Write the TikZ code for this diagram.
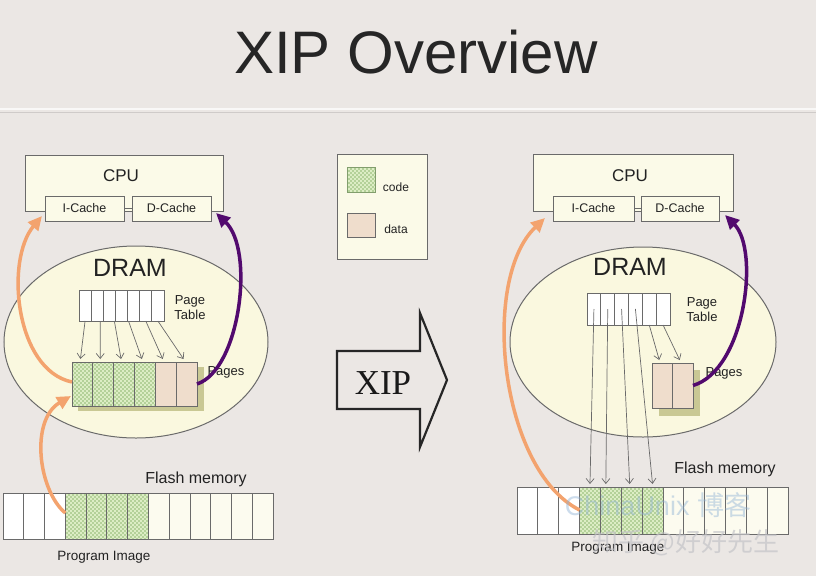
\documentclass[tikz,border=0pt]{standalone}
\usepackage{fontspec}
\setmainfont{Liberation Sans}
\newfontfamily\serifxip{Liberation Serif}
\newfontfamily\cjk{Noto Sans CJK SC}
\usetikzlibrary{arrows.meta,patterns,calc,shapes.geometric}
\pgfdeclarepatternformonly{codedots}{\pgfqpoint{-1pt}{-1pt}}{\pgfqpoint{5pt}{5pt}}{\pgfqpoint{4pt}{4pt}}{%
  \pgfpathcircle{\pgfqpoint{1pt}{1pt}}{0.9pt}%
  \pgfpathcircle{\pgfqpoint{3pt}{3pt}}{0.9pt}%
  \pgfusepath{fill}}
\definecolor{bgc}{HTML}{EBE7E4}
\definecolor{creamc}{HTML}{FBFAE8}
\definecolor{ellc}{HTML}{FAF8DF}
\definecolor{cellc}{HTML}{FCFBEF}
\definecolor{codebg}{HTML}{DCEDC4}
\definecolor{codedot}{HTML}{8DB56E}
\definecolor{datac}{HTML}{EFDDCC}
\definecolor{lineg}{HTML}{6A6A6A}
\definecolor{orangec}{HTML}{F3A36E}
\definecolor{purplec}{HTML}{520A6E}
\definecolor{shadowc}{HTML}{C9C894}
\definecolor{txtc}{HTML}{222222}
\definecolor{wmblue}{HTML}{8FB2D6}
\definecolor{wmgray}{HTML}{C4C4C8}
\begin{document}
\begin{tikzpicture}[x=1pt,y=-1pt,
  every node/.style={inner sep=0pt,outer sep=0pt,text=txtc},
  boxc/.style={draw=lineg,line width=1pt,fill=creamc,anchor=north west},
  cachebox/.style={draw=lineg,line width=1pt,fill=creamc,minimum height=25pt,font=\fontsize{12.5}{12.5}\selectfont},
  dramell/.style={ellipse,draw=lineg,line width=1pt,fill=ellc,minimum width=264pt,minimum height=192pt},
  ptcellL/.style={draw=lineg,line width=0.8pt,fill=white,anchor=north west,minimum width=12.14pt,minimum height=31pt},
  ptcellR/.style={draw=lineg,line width=0.8pt,fill=white,anchor=north west,minimum width=13.83pt,minimum height=32pt},
  codecell/.style={draw=lineg,line width=0.8pt,preaction={fill=codebg},pattern=codedots,pattern color=codedot,anchor=north west},
  datacell/.style={draw=lineg,line width=0.8pt,fill=datac,anchor=north west},
  flcell/.style={draw=lineg,line width=0.8pt,fill=cellc,anchor=north west},
  lbl/.style={font=\fontsize{13}{15}\selectfont,align=center},
  ptarrow/.style={draw=lineg,line width=0.7pt,-{Straight Barb[length=5pt,width=8pt]}},
  orangearr/.style={draw=orangec,line width=3.5pt,-{Triangle[length=14pt,width=13pt]}},
  purplearr/.style={draw=purplec,line width=3.5pt,-{Triangle[length=14pt,width=13pt]}}
]
\useasboundingbox (0,0) rectangle (816,576);
\fill[bgc] (0,0) rectangle (816,576);
% title
\node[font=\fontsize{60}{60}\selectfont,text=black!85] (title) at (416,52) {XIP Overview};
\draw[line width=2pt,color=white!70!bgc] (0,109) -- (816,109);
\draw[line width=1pt,color=black!12!bgc] (0,112) -- (816,112);

% ===== LEFT =====
\node[boxc,minimum width=198pt,minimum height=56pt] (lcpu) at (25,155) {};
\node[font=\fontsize{17}{17}\selectfont] (lcputxt) at (121,176) {CPU};
\node[cachebox,minimum width=79pt] (lic) at (84.5,208.5) {I-Cache};
\node[cachebox,minimum width=79pt] (ldc) at (171.5,208.5) {D-Cache};
\draw[lineg,line width=1pt] (lic) -- (ldc);

\node[dramell] (ldram) at (136,342) {};
\node[font=\fontsize{25}{25}\selectfont] (ldramtxt) at (130,268) {DRAM};

\foreach \i in {1,...,7} {\node[ptcellL] (lpt\i) at ({79+(\i-1)*12.14},290) {};}
\node[lbl] (lptlbl) at (190,308) {Page\\Table};

\fill[shadowc] (78,367) rectangle (204,411);
\foreach \i in {1,...,4} {\node[codecell,minimum width=20.83pt,minimum height=44pt] (lpg\i) at ({72+(\i-1)*20.83},362) {};}
\foreach \i in {5,6} {\node[datacell,minimum width=20.83pt,minimum height=44pt] (lpg\i) at ({72+(\i-1)*20.83},362) {};}
\node[lbl] (lpglbl) at (226,372) {Pages};

\draw[ptarrow] (lpt1.south) -- ($(lpg1.north)+(-2,-3)$);
\draw[ptarrow] ($(lpt2.south)+(3,0)$) -- ($(lpg2.north)+(-3,-3)$);
\draw[ptarrow] ($(lpt3.south)+(5,0)$) -- ($(lpg3.north)+(-3,-3)$);
\draw[ptarrow] ($(lpt4.south)+(7,0)$) -- ($(lpg4.north)+(-3,-3)$);
\draw[ptarrow] (lpt6.south) -- ($(lpg5.north)+(-3,-3)$);
\draw[ptarrow] (lpt7.south) -- ($(lpg6.north)+(-3,-3)$);

\foreach \i in {1,2,3} {\node[flcell,fill=white,minimum width=20.77pt,minimum height=46pt] (lfl\i) at ({3+(\i-1)*20.77},493) {};}
\foreach \i in {4,...,7} {\node[codecell,minimum width=20.77pt,minimum height=46pt] (lfl\i) at ({3+(\i-1)*20.77},493) {};}
\foreach \i in {8,...,13} {\node[flcell,minimum width=20.77pt,minimum height=46pt] (lfl\i) at ({3+(\i-1)*20.77},493) {};}
\node[font=\fontsize{16}{16}\selectfont] (lfltxt) at (196,479) {Flash memory};
\node[font=\fontsize{13.5}{13.5}\selectfont] (lpitxt) at (104,557) {Program Image};

\draw[orangearr] ($(lfl4.west)+(0,-3)$) .. controls (38,490) and (30,420) .. ($(lpg1.south west)+(-1,-10)$);
\draw[orangearr] ($(lpg1.west)+(0,-2)$) .. controls (15,370) and (5,260) .. ($(lic.south west)+(-3,-5)$);
\draw[purplearr] (lpg6.east) .. controls (240,370) and (255,250) .. ($(ldc.south east)+(5,-8)$);

% ===== LEGEND =====
\node[boxc,minimum width=90pt,minimum height=105pt] (leg) at (337,154) {};
\node[codecell,draw=codedot!70!lineg,minimum width=28pt,minimum height=25pt] (legcode) at (347,167) {};
\node[datacell,minimum width=28pt,minimum height=24pt] (legdata) at (347,213) {};
\node[font=\fontsize{12}{12}\selectfont] (legcodetxt) at (396,187) {code};
\node[font=\fontsize{12}{12}\selectfont] (legdatatxt) at (396,229) {data};

% ===== XIP arrow =====
\draw[line width=2.2pt,black!85,fill=bgc,line join=miter] (337,351) -- (420,351) -- (420,313) -- (447,380) -- (420,447) -- (420,409) -- (337,409) -- cycle;
\node[font=\fontsize{35}{35}\selectfont\serifxip,text=black!90] (xiptxt) at (383,383) {XIP};

% ===== RIGHT =====
\node[boxc,minimum width=200pt,minimum height=57pt] (rcpu) at (533,154) {};
\node[font=\fontsize{17}{17}\selectfont] (rcputxt) at (630,176) {CPU};
\node[cachebox,minimum width=81pt] (ric) at (593.5,208.5) {I-Cache};
\node[cachebox,minimum width=78pt] (rdc) at (680,208.5) {D-Cache};
\draw[lineg,line width=1pt] (ric) -- (rdc);

\node[dramell,minimum width=266pt,minimum height=190pt] (rdram) at (643,342) {};
\node[font=\fontsize{25}{25}\selectfont] (rdramtxt) at (630,267) {DRAM};

\foreach \i in {1,...,6} {\node[ptcellR] (rpt\i) at ({587+(\i-1)*13.83},293) {};}
\node[lbl] (rptlbl) at (702,310) {Page\\Table};

\fill[shadowc] (659,370) rectangle (700,416);
\foreach \i in {1,2} {\node[datacell,minimum width=20.5pt,minimum height=45pt] (rpg\i) at ({652+(\i-1)*20.5},363) {};}
\node[lbl] (rpglbl) at (724,373) {Pages};

\draw[ptarrow] (rpt5.south) -- ($(rpg1.north)+(-3,-3)$);
\draw[ptarrow] (rpt6.south) -- ($(rpg2.north)+(-3,-3)$);

\foreach \i in {1,2,3} {\node[flcell,fill=white,minimum width=20.85pt,minimum height=47pt] (rfl\i) at ({517+(\i-1)*20.85},487) {};}
\foreach \i in {4,...,7} {\node[codecell,minimum width=20.85pt,minimum height=47pt] (rfl\i) at ({517+(\i-1)*20.85},487) {};}
\foreach \i in {8,...,13} {\node[flcell,minimum width=20.85pt,minimum height=47pt] (rfl\i) at ({517+(\i-1)*20.85},487) {};}
\node[font=\fontsize{16}{16}\selectfont] (rfltxt) at (725,469) {Flash memory};
\node[font=\fontsize{13.5}{13.5}\selectfont] (rpitxt) at (618,548) {Program Image};

\draw[ptarrow] (rpt1.center) -- ($(rfl4.north)+(0,-3)$);
\draw[ptarrow] (rpt2.center) -- ($(rfl5.north)+(-5,-3)$);
\draw[ptarrow] (rpt3.center) -- ($(rfl6.north)+(-2,-3)$);
\draw[ptarrow] (rpt4.center) -- ($(rfl7.north)+(0,-3)$);

\draw[orangearr] ($(rfl4.west)+(0,-0.5)$) .. controls (500,470) and (480,280) .. ($(ric.south west)+(-8,-3)$);
\draw[purplearr] (rpg2.east) .. controls (745,370) and (760,250) .. ($(rdc.south east)+(6,-6)$);

% watermarks
\node[font=\fontsize{27}{27}\selectfont,text=wmblue,opacity=0.45] (wm1) at (658,505) {ChinaUnix {\cjk 博客}};
\node[font=\fontsize{26}{26}\selectfont\cjk,text=wmgray,opacity=0.7] (wm2) at (686,543) {知乎 @好好先生};
\end{tikzpicture}
\end{document}
